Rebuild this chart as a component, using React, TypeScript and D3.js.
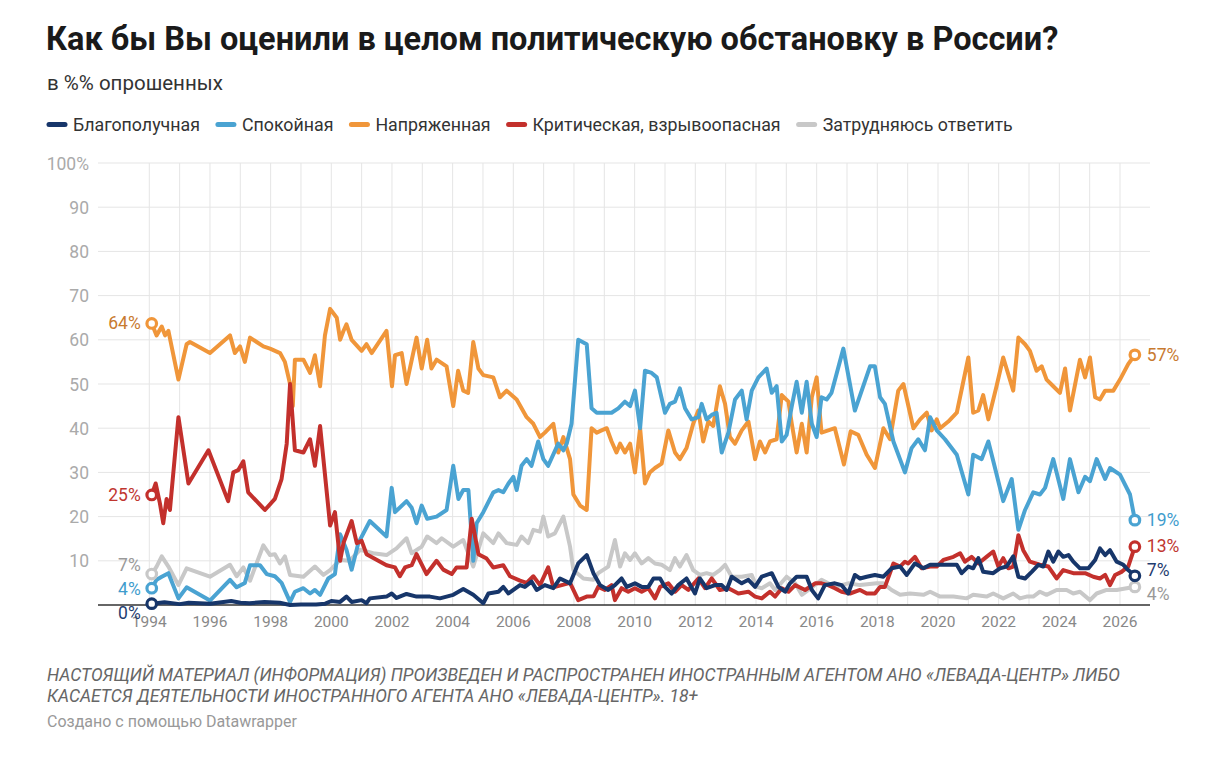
import { useEffect, useRef } from 'react';
import * as d3 from 'd3';

type Pt = [number, number];

const seriesNames = ['Благополучная', 'Спокойная', 'Напряженная', 'Критическая, взрывоопасная', 'Затрудняюсь ответить'];
const seriesColors = ['#17366a', '#4aa3d2', '#f0963a', '#c3302c', '#c8c8c8'];
const labelColors = ['#1f3d70', '#3f9ccd', '#c87a30', '#c0362f', '#999999'];

// Благополучная
const good: Pt[] = [
  [1994.08, 0.3], [1994.5, 0.6], [1995.0, 0.2], [1995.3, 0.5], [1996.0, 0.3], [1996.7, 0.9], [1997.0, 0.5], [1997.3, 0.4],
  [1997.8, 0.7], [1998.3, 0.5], [1998.64, 0], [1999.0, 0.1], [1999.5, 0.1], [1999.8, 0.3], [2000.0, 0.9], [2000.29, 0.7],
  [2000.5, 1.9], [2000.67, 0.7], [2001.0, 1.1], [2001.16, 0.4], [2001.27, 1.5], [2001.82, 1.9], [2001.99, 2.6], [2002.15, 1.6],
  [2002.48, 2.5], [2002.81, 1.9], [2003.25, 1.9], [2003.58, 1.5], [2004.02, 2.3], [2004.35, 3.6], [2004.68, 2.3], [2005.01, 0.4],
  [2005.18, 2.6], [2005.51, 3], [2005.67, 4.1], [2005.84, 2.6], [2006.22, 4.5], [2006.38, 4.1], [2006.6, 5.3], [2006.77, 3.4],
  [2007.04, 4.5], [2007.32, 3.8], [2007.54, 6], [2007.87, 4.9], [2008.14, 9.4], [2008.42, 11.3], [2008.64, 7.2], [2008.86, 4.5],
  [2009.13, 3.4], [2009.35, 4.5], [2009.57, 6], [2009.74, 4.1], [2010.01, 4.9], [2010.23, 4.1], [2010.45, 4.1], [2010.62, 6],
  [2010.84, 6], [2011.0, 4.1], [2011.22, 2.6], [2011.44, 4.5], [2011.71, 6], [2011.99, 2.6], [2012.15, 6], [2012.37, 3.8],
  [2012.65, 4.5], [2012.87, 4.5], [2013.03, 3.4], [2013.2, 6.4], [2013.53, 4.9], [2013.75, 5.7], [2013.97, 4.1], [2014.19, 6.4],
  [2014.52, 7.2], [2014.74, 4.1], [2014.96, 3], [2015.12, 4.9], [2015.34, 6.4], [2015.67, 6.4], [2015.84, 3.4], [2016.05, 1.5],
  [2016.27, 4.5], [2016.6, 4.9], [2016.82, 4.5], [2017.04, 2.6], [2017.26, 6.8], [2017.43, 6], [2017.65, 6.4], [2017.92, 6.8],
  [2018.2, 6.4], [2018.47, 8.3], [2018.75, 8.7], [2018.97, 6.8], [2019.24, 9.4], [2019.52, 8.3], [2019.74, 9.1], [2020.07, 9.1],
  [2020.4, 9.1], [2020.62, 9.1], [2020.78, 7.2], [2021.0, 8.7], [2021.16, 8.3], [2021.33, 10.6], [2021.49, 7.5], [2021.82, 7.2],
  [2022.04, 8.3], [2022.26, 8.7], [2022.48, 11], [2022.65, 6.4], [2022.87, 6], [2023.09, 7.5], [2023.31, 9.1], [2023.47, 8.7],
  [2023.64, 12.1], [2023.8, 9.8], [2023.97, 12.1], [2024.13, 10.9], [2024.3, 11.3], [2024.46, 9.8], [2024.68, 8.3], [2024.96, 8.3],
  [2025.18, 10.2], [2025.34, 12.8], [2025.51, 11.3], [2025.67, 12.4], [2025.89, 9.8], [2026.11, 9.1], [2026.27, 7.9], [2026.49, 6.6],
];

// Спокойная
const calm: Pt[] = [
  [1994.08, 3.8], [1994.24, 5.7], [1994.41, 6.4], [1994.63, 7.2], [1994.96, 1.5], [1995.23, 4], [1996.0, 1], [1996.66, 5.7],
  [1996.88, 4], [1997.15, 5], [1997.32, 9], [1997.65, 9], [1997.87, 7], [1998.14, 6.5], [1998.36, 5], [1998.64, 0.7],
  [1998.8, 3], [1999.08, 3.8], [1999.3, 2.6], [1999.46, 3.4], [1999.63, 2.3], [1999.9, 6], [2000.12, 7], [2000.29, 16],
  [2000.5, 12.5], [2000.67, 8], [2000.89, 14], [2001.27, 19], [2001.82, 15.5], [2001.99, 26.5], [2002.1, 21], [2002.48, 23.5],
  [2002.65, 22], [2002.81, 18.5], [2002.98, 22.5], [2003.16, 19.5], [2003.47, 20], [2003.8, 21.5], [2004.02, 31.5], [2004.19, 24],
  [2004.35, 26], [2004.52, 26], [2004.68, 10], [2004.79, 18.5], [2005.01, 21], [2005.34, 25.5], [2005.51, 26], [2005.67, 25.5],
  [2005.84, 27.5], [2006.0, 29], [2006.11, 26], [2006.27, 31.5], [2006.44, 33], [2006.6, 31.5], [2006.82, 37], [2006.99, 33],
  [2007.15, 31.5], [2007.48, 36.5], [2007.65, 35], [2007.76, 36.5], [2007.92, 41], [2008.14, 60], [2008.42, 59], [2008.58, 44.5],
  [2008.75, 43.5], [2009.0, 43.5], [2009.24, 43.5], [2009.46, 44.5], [2009.68, 46], [2009.85, 45], [2010.01, 48.5], [2010.18, 40],
  [2010.34, 53], [2010.56, 52.5], [2010.73, 51.5], [2011.0, 43.5], [2011.16, 45.5], [2011.33, 46], [2011.49, 49], [2011.66, 44.5],
  [2011.88, 42], [2012.1, 42.5], [2012.21, 45.5], [2012.37, 42], [2012.54, 43], [2012.7, 43.5], [2012.87, 34.5], [2013.09, 39],
  [2013.31, 46.5], [2013.53, 48.5], [2013.69, 42], [2013.86, 48.5], [2014.08, 51.5], [2014.35, 53.5], [2014.52, 48], [2014.68, 49.5],
  [2014.85, 37], [2015.01, 38.5], [2015.18, 45], [2015.34, 50.5], [2015.51, 43.5], [2015.67, 50.5], [2015.84, 41], [2016.0, 38],
  [2016.16, 47], [2016.33, 46.5], [2016.49, 48], [2016.88, 58], [2017.26, 44], [2017.76, 54], [2017.92, 54], [2018.09, 47],
  [2018.25, 45.5], [2018.53, 37], [2018.91, 30], [2019.13, 35.5], [2019.35, 37.5], [2019.57, 35], [2019.74, 42.5], [2019.96, 39.5],
  [2020.23, 37.5], [2020.62, 34], [2021.0, 25], [2021.16, 34], [2021.44, 33], [2021.66, 37], [2021.88, 31], [2022.15, 23.5],
  [2022.43, 28.5], [2022.65, 17], [2022.87, 21.5], [2023.14, 25.5], [2023.36, 25], [2023.53, 26.5], [2023.8, 33], [2024.13, 24],
  [2024.35, 33], [2024.63, 25.5], [2024.85, 29], [2025.01, 28], [2025.23, 33], [2025.51, 28.5], [2025.67, 31], [2026.0, 29.5],
  [2026.33, 25], [2026.49, 19.2],
];

// Напряженная
const tense: Pt[] = [
  [1994.08, 63.7], [1994.24, 61], [1994.41, 63], [1994.52, 61], [1994.63, 62], [1994.96, 51], [1995.23, 59], [1995.34, 59.5],
  [1996.0, 57], [1996.66, 61], [1996.82, 57], [1996.99, 58.5], [1997.15, 55], [1997.32, 60.5], [1997.76, 58.5], [1997.98, 58],
  [1998.31, 57], [1998.47, 55], [1998.64, 50], [1998.73, 45], [1998.8, 55.5], [1999.08, 55.5], [1999.3, 52.5], [1999.46, 56.5],
  [1999.63, 49.5], [1999.79, 61], [1999.96, 67], [2000.18, 65], [2000.29, 60], [2000.4, 62], [2000.5, 63.5], [2000.67, 60],
  [2001.0, 57.5], [2001.16, 59], [2001.33, 57], [2001.82, 62], [2002.0, 49.5], [2002.1, 56.5], [2002.32, 57], [2002.48, 50],
  [2002.81, 60.5], [2002.98, 53.5], [2003.16, 60], [2003.3, 53.5], [2003.47, 55.5], [2003.8, 54], [2004.02, 45], [2004.18, 53],
  [2004.35, 48.5], [2004.51, 48], [2004.68, 59.5], [2004.85, 53.5], [2005.01, 52], [2005.34, 51.5], [2005.56, 47], [2005.78, 48.5],
  [2006.11, 46.5], [2006.44, 42.5], [2006.66, 41], [2006.88, 38], [2007.04, 39], [2007.32, 41], [2007.48, 34.5], [2007.65, 38],
  [2007.87, 33], [2007.98, 25], [2008.2, 22.5], [2008.42, 21.5], [2008.58, 40], [2008.75, 39], [2008.91, 39.5], [2009.08, 40],
  [2009.24, 37], [2009.4, 34.5], [2009.52, 36.5], [2009.68, 34.5], [2009.85, 36.5], [2010.01, 30], [2010.18, 40], [2010.34, 27.5],
  [2010.5, 30], [2010.67, 31], [2010.89, 32], [2011.11, 39.5], [2011.33, 34.5], [2011.49, 33], [2011.71, 35.5], [2011.93, 41],
  [2012.1, 44], [2012.26, 37], [2012.43, 41.5], [2012.59, 40.5], [2012.81, 49.5], [2012.98, 45.5], [2013.14, 38], [2013.31, 36.5],
  [2013.53, 39.5], [2013.75, 41.5], [2013.97, 33], [2014.13, 37], [2014.3, 34.5], [2014.46, 37], [2014.68, 37.5], [2014.85, 47.5],
  [2015.07, 46], [2015.18, 41], [2015.34, 34.5], [2015.51, 41], [2015.67, 34.5], [2015.84, 47], [2016.0, 51.5], [2016.16, 39],
  [2016.38, 39.5], [2016.6, 40], [2016.9, 31.8], [2017.12, 39.3], [2017.37, 38.5], [2017.65, 34], [2017.92, 31], [2018.2, 40],
  [2018.42, 37.5], [2018.69, 48.5], [2018.86, 50], [2019.19, 40], [2019.41, 42], [2019.63, 43.5], [2019.79, 39.5], [2019.96, 42],
  [2020.07, 40], [2020.34, 41.5], [2020.62, 43.5], [2021.0, 56], [2021.16, 43.5], [2021.33, 44], [2021.49, 47.5], [2021.66, 42],
  [2021.93, 49.5], [2022.15, 56], [2022.48, 48.5], [2022.65, 60.5], [2022.87, 59], [2023.03, 57.5], [2023.25, 53], [2023.42, 54],
  [2023.58, 51], [2023.8, 49.5], [2024.02, 48], [2024.19, 53.5], [2024.35, 44], [2024.68, 55.5], [2024.85, 51.5], [2025.01, 56],
  [2025.18, 47], [2025.34, 46.5], [2025.51, 48.5], [2025.78, 48.5], [2026.0, 51], [2026.27, 54.5], [2026.49, 56.6],
];

// Критическая, взрывоопасная
const critical: Pt[] = [
  [1994.08, 24.9], [1994.21, 27.5], [1994.35, 23], [1994.46, 18.5], [1994.57, 24], [1994.68, 21.5], [1994.96, 42.5], [1995.29, 27.5],
  [1995.95, 35], [1996.6, 23.5], [1996.77, 30], [1996.93, 30.5], [1997.1, 32.5], [1997.26, 25.5], [1997.81, 21.5], [1998.14, 24],
  [1998.36, 28.5], [1998.53, 36.5], [1998.64, 50], [1998.8, 35], [1999.08, 34.5], [1999.3, 37.5], [1999.46, 31.5], [1999.63, 40.5],
  [1999.96, 18], [2000.12, 21], [2000.29, 10], [2000.4, 14], [2000.67, 19], [2000.84, 14], [2001.0, 14.5], [2001.16, 11.5],
  [2001.82, 9], [2002.1, 8.5], [2002.26, 6.5], [2002.43, 8.5], [2002.65, 9], [2002.81, 11.5], [2003.14, 7], [2003.47, 10],
  [2003.69, 8], [2003.97, 7], [2004.13, 8.5], [2004.46, 8.5], [2004.63, 19.5], [2004.85, 11.5], [2005.12, 10.5], [2005.34, 8.5],
  [2005.67, 9], [2005.89, 6.5], [2006.22, 5.5], [2006.44, 5], [2006.66, 6.5], [2006.88, 4.5], [2007.15, 8.5], [2007.32, 4],
  [2007.87, 5], [2008.14, 1.1], [2008.42, 1.9], [2008.65, 2], [2008.8, 4.1], [2009.02, 3.4], [2009.24, 4.5], [2009.35, 1.1],
  [2009.57, 3.8], [2009.79, 3], [2010.01, 3.8], [2010.23, 3], [2010.45, 3.8], [2010.67, 1.5], [2010.84, 4.1], [2011.11, 4.9],
  [2011.33, 3], [2011.55, 4.5], [2011.77, 3.4], [2012.1, 6], [2012.32, 3.8], [2012.54, 6], [2012.81, 3.4], [2013.09, 3.8],
  [2013.42, 2.6], [2013.75, 3], [2013.97, 1.9], [2014.19, 1.5], [2014.46, 3], [2014.63, 1.9], [2014.85, 3.8], [2015.07, 3],
  [2015.29, 4.5], [2015.62, 3.4], [2015.95, 4.9], [2016.16, 4.9], [2016.38, 4.5], [2016.6, 3.8], [2016.82, 3], [2017.1, 2.6],
  [2017.43, 3.4], [2017.65, 2.6], [2017.92, 2.6], [2018.09, 4.1], [2018.25, 4.1], [2018.53, 9.4], [2018.75, 8.7], [2018.91, 9.8],
  [2019.02, 9.4], [2019.24, 10.9], [2019.46, 8.3], [2019.74, 8.7], [2019.96, 8.7], [2020.18, 10.2], [2020.51, 10.9], [2020.73, 11.7],
  [2020.89, 9.8], [2021.11, 10.9], [2021.33, 9.4], [2021.6, 10.9], [2021.82, 12.1], [2021.99, 8.7], [2022.15, 10.6], [2022.32, 8.3],
  [2022.48, 8.7], [2022.65, 15.8], [2022.81, 12.4], [2023.03, 9.8], [2023.36, 9.1], [2023.64, 8.7], [2023.91, 6], [2024.13, 7.9],
  [2024.46, 7.2], [2024.85, 7.2], [2025.12, 6.4], [2025.34, 6], [2025.51, 6.8], [2025.67, 4.5], [2025.84, 6.8], [2026.05, 7.5],
  [2026.27, 8.7], [2026.49, 13.2],
];

// Затрудняюсь ответить
const unsure: Pt[] = [
  [1994.08, 7], [1994.24, 8.7], [1994.41, 11], [1994.63, 8.7], [1994.96, 4.5], [1995.23, 8.3], [1996.0, 6.4], [1996.66, 9.1],
  [1996.88, 6.5], [1997.1, 8.5], [1997.32, 5.5], [1997.76, 13.5], [1997.98, 11.3], [1998.14, 11.5], [1998.31, 9.4], [1998.47, 11],
  [1998.64, 6.8], [1999.08, 6.4], [1999.46, 8.7], [1999.74, 6.8], [1999.96, 7.9], [2000.29, 10.2], [2000.6, 10], [2000.95, 12.5],
  [2001.38, 11.7], [2001.82, 11.3], [2002.15, 12.8], [2002.48, 15.1], [2002.65, 11.7], [2002.98, 13.2], [2003.16, 15.5], [2003.47, 14],
  [2003.64, 15.1], [2004.02, 13.2], [2004.35, 14.7], [2004.68, 8.7], [2005.01, 16.2], [2005.34, 14], [2005.51, 16.2], [2005.78, 14],
  [2006.11, 13.6], [2006.27, 15.5], [2006.49, 14], [2006.66, 17], [2006.88, 16.6], [2006.99, 20], [2007.15, 15.5], [2007.37, 16.2],
  [2007.65, 20], [2007.87, 13.2], [2007.98, 7.9], [2008.31, 6], [2008.64, 5.7], [2008.8, 7.2], [2009.13, 8.7], [2009.35, 14.7],
  [2009.52, 8.7], [2009.68, 11.7], [2009.85, 10.2], [2010.01, 11.7], [2010.23, 9.4], [2010.45, 10.6], [2010.67, 9.4], [2010.89, 9.1],
  [2011.16, 7.9], [2011.33, 10.6], [2011.49, 8.7], [2011.71, 11.3], [2011.93, 7.9], [2012.15, 6.8], [2012.37, 7.2], [2012.59, 6.8],
  [2012.81, 7.9], [2012.98, 9.1], [2013.2, 6.4], [2013.53, 6.4], [2013.86, 6.8], [2014.02, 4.1], [2014.19, 3.8], [2014.46, 4.9],
  [2014.63, 3.4], [2015.01, 6.4], [2015.29, 4.9], [2015.51, 2.3], [2015.73, 3.4], [2016.16, 5.7], [2016.6, 4.1], [2017.04, 4.9],
  [2017.43, 4.5], [2017.98, 4.9], [2018.2, 4.9], [2018.47, 3.4], [2018.75, 2.3], [2019.08, 2.6], [2019.52, 2.3], [2019.74, 3],
  [2020.07, 1.9], [2020.51, 1.9], [2020.95, 1.5], [2021.16, 2.3], [2021.6, 1.9], [2021.82, 2.6], [2022.15, 1.5], [2022.48, 2.6],
  [2022.7, 1.5], [2022.92, 1.9], [2023.14, 1.9], [2023.36, 3], [2023.58, 2.3], [2023.91, 3.4], [2024.24, 3.4], [2024.46, 2.6],
  [2024.68, 3], [2025.01, 1.1], [2025.23, 2.6], [2025.56, 3.4], [2025.89, 3.4], [2026.22, 3.8], [2026.49, 4.1],
];

const allSeries = [good, calm, tense, critical, unsure];
const drawOrder = [4, 2, 1, 3, 0];
const yTicks = [10, 20, 30, 40, 50, 60, 70, 80, 90, 100];
const xLabelYears = d3.range(1994, 2027, 2);
const gridYears = d3.range(1994, 2027, 1);

const titleText = 'Как бы Вы оценили в целом политическую обстановку в России?';
const subtitleText = 'в %% опрошенных';
const noteLines = [
  'НАСТОЯЩИЙ МАТЕРИАЛ (ИНФОРМАЦИЯ) ПРОИЗВЕДЕН И РАСПРОСТРАНЕН ИНОСТРАННЫМ АГЕНТОМ АНО «ЛЕВАДА-ЦЕНТР» ЛИБО',
  'КАСАЕТСЯ ДЕЯТЕЛЬНОСТИ ИНОСТРАННОГО АГЕНТА АНО «ЛЕВАДА-ЦЕНТР». 18+',
];
const creditText = 'Создано с помощью Datawrapper';

const W = 1206;
const H = 766;
const FONT = 'Roboto, "Noto Sans", sans-serif';

// push overlapping labels apart
function relax(ys: number[], gap: number) {
  const out = ys.slice();
  const idx = d3.range(out.length).sort((a, b) => out[a] - out[b]);
  for (let it = 0; it < 60; it++) {
    for (let k = 0; k < idx.length - 1; k++) {
      const a = idx[k], b = idx[k + 1];
      const d = out[b] - out[a];
      if (d < gap) {
        const m = (gap - d) / 2;
        out[a] -= m;
        out[b] += m;
      }
    }
  }
  return out;
}

export default function App() {
  const svgRef = useRef<SVGSVGElement>(null);

  useEffect(() => {
    document.body.style.margin = '0';
    if (!svgRef.current) return;
    const svg = d3.select(svgRef.current);
    svg.selectAll('*').remove();

    const x = d3.scaleLinear().domain([1994, 2026]).range([149.3, 1120]);
    const y = d3.scaleLinear().domain([0, 100]).range([605, 163]);

    svg.append('rect').attr('width', W).attr('height', H).attr('fill', '#fff');

    // header
    svg.append('text')
      .attr('x', 46).attr('y', 50)
      .style('font-family', FONT).style('font-size', '32.5px').style('font-weight', 700)
      .attr('fill', '#1a1a1a')
      .text(titleText);

    svg.append('text')
      .attr('x', 47).attr('y', 90)
      .style('font-family', FONT).style('font-size', '20.5px')
      .attr('fill', '#333')
      .text(subtitleText);

    // legend
    const legend = svg.append('g');
    let lx = 47;
    seriesNames.forEach((name, i) => {
      legend.append('line')
        .attr('x1', lx + 2).attr('x2', lx + 18).attr('y1', 124.5).attr('y2', 124.5)
        .attr('stroke', seriesColors[i]).attr('stroke-width', 5).attr('stroke-linecap', 'round');
      const t = legend.append('text')
        .attr('x', lx + 26).attr('y', 131)
        .style('font-family', FONT).style('font-size', '17.8px')
        .attr('fill', '#333')
        .text(name);
      const w = (t.node() as SVGTextElement).getComputedTextLength();
      lx += 26 + w + 16;
    });

    // grid
    const grid = svg.append('g');
    yTicks.forEach(v => {
      grid.append('line')
        .attr('x1', 98).attr('x2', 1150).attr('y1', y(v)).attr('y2', y(v))
        .attr('stroke', '#e5e5e5').attr('stroke-width', 1);
      grid.append('text')
        .attr('x', 89).attr('y', y(v) + 6.5)
        .attr('text-anchor', 'end')
        .style('font-family', FONT).style('font-size', '17.5px')
        .attr('fill', '#aaa')
        .text(v === 100 ? '100%' : String(v));
    });
    gridYears.forEach(yr => {
      grid.append('line')
        .attr('x1', x(yr)).attr('x2', x(yr)).attr('y1', y(100)).attr('y2', y(0))
        .attr('stroke', '#e5e5e5').attr('stroke-width', 1);
    });
    xLabelYears.forEach(yr => {
      grid.append('text')
        .attr('x', x(yr)).attr('y', 627)
        .attr('text-anchor', 'middle')
        .style('font-family', FONT).style('font-size', '15.5px')
        .attr('fill', '#888')
        .text(String(yr));
    });
    grid.append('line')
      .attr('x1', 98).attr('x2', 1150).attr('y1', y(0)).attr('y2', y(0))
      .attr('stroke', '#333').attr('stroke-width', 1.5);

    // lines
    const line = d3.line<Pt>().x(d => x(d[0])).y(d => y(d[1])).curve(d3.curveLinear);
    const lines = svg.append('g');
    drawOrder.forEach(i => {
      lines.append('path')
        .attr('d', line(allSeries[i]))
        .attr('fill', 'none')
        .attr('stroke', seriesColors[i])
        .attr('stroke-width', 4)
        .attr('stroke-linejoin', 'round')
        .attr('stroke-linecap', 'round');
    });
    drawOrder.forEach(i => {
      const s = allSeries[i];
      [s[0], s[s.length - 1]].forEach(p => {
        lines.append('circle')
          .attr('cx', x(p[0])).attr('cy', y(p[1])).attr('r', 4.8)
          .attr('fill', '#fff')
          .attr('stroke', seriesColors[i]).attr('stroke-width', 3.2);
      });
    });

    // value labels
    const firstYs = relax(allSeries.map(s => y(s[0][1])), 24);
    const lastYs = relax(allSeries.map(s => y(s[s.length - 1][1])), 24);
    allSeries.forEach((s, i) => {
      const f = s[0];
      const l = s[s.length - 1];
      svg.append('text')
        .attr('x', x(f[0]) - 11).attr('y', firstYs[i] + 6)
        .attr('text-anchor', 'end')
        .style('font-family', FONT).style('font-size', '17.5px')
        .attr('fill', labelColors[i])
        .text(`${Math.round(f[1])}%`);
      svg.append('text')
        .attr('x', x(l[0]) + 12).attr('y', lastYs[i] + 6)
        .attr('text-anchor', 'start')
        .style('font-family', FONT).style('font-size', '17.5px')
        .attr('fill', labelColors[i])
        .text(`${Math.round(l[1])}%`);
    });

    // notes
    noteLines.forEach((t, i) => {
      svg.append('text')
        .attr('x', 47).attr('y', 681 + i * 20.5)
        .style('font-family', FONT).style('font-size', '17.5px').style('font-style', 'italic')
        .attr('fill', '#666')
        .text(t);
    });
    svg.append('text')
      .attr('x', 47).attr('y', 727)
      .style('font-family', FONT).style('font-size', '16px')
      .attr('fill', '#999')
      .text(creditText);
  }, []);

  return <svg ref={svgRef} width={W} height={H} style={{ display: 'block' }} />;
}
